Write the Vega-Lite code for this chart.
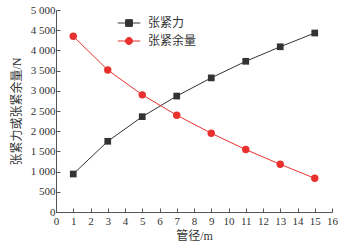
{
  "$schema": "https://vega.github.io/schema/vega-lite/v6.json",
  "autosize": {"type": "none"},
  "width": 276,
  "height": 202,
  "padding": {"left": 56, "top": 10, "right": 13, "bottom": 36},
  "background": "white",
  "config": {
    "view": {"stroke": null},
    "font": "Liberation Serif",
    "axis": {
      "labelFont": "Liberation Serif",
      "titleFont": "Liberation Serif, Noto Sans CJK SC",
      "labelFontSize": 11,
      "titleFontSize": 12,
      "labelColor": "#333333",
      "titleColor": "#333333",
      "titleFontWeight": "normal",
      "domainColor": "#555555",
      "tickColor": "#555555",
      "grid": false
    }
  },
  "data": {
    "values": [
      {"d": 1, "v": 940, "s": "张紧力"},
      {"d": 3, "v": 1750, "s": "张紧力"},
      {"d": 5, "v": 2360, "s": "张紧力"},
      {"d": 7, "v": 2870, "s": "张紧力"},
      {"d": 9, "v": 3320, "s": "张紧力"},
      {"d": 11, "v": 3730, "s": "张紧力"},
      {"d": 13, "v": 4090, "s": "张紧力"},
      {"d": 15, "v": 4430, "s": "张紧力"},
      {"d": 1, "v": 4350, "s": "张紧余量"},
      {"d": 3, "v": 3515, "s": "张紧余量"},
      {"d": 5, "v": 2900, "s": "张紧余量"},
      {"d": 7, "v": 2395, "s": "张紧余量"},
      {"d": 9, "v": 1950, "s": "张紧余量"},
      {"d": 11, "v": 1545, "s": "张紧余量"},
      {"d": 13, "v": 1180, "s": "张紧余量"},
      {"d": 15, "v": 835, "s": "张紧余量"}
    ]
  },
  "encoding": {
    "x": {
      "field": "d", "type": "quantitative",
      "scale": {"domain": [0, 16], "nice": false, "zero": false},
      "axis": {"title": "管径/m", "values": [0,1,2,3,4,5,6,7,8,9,10,11,12,13,14,15,16], "tickSize": -4, "labelPadding": 7, "titlePadding": 4, "labelFlush": false}
    },
    "y": {
      "field": "v", "type": "quantitative",
      "scale": {"domain": [0, 5000], "nice": false},
      "axis": {"title": "张紧力或张紧余量/N", "values": [0,500,1000,1500,2000,2500,3000,3500,4000,4500,5000], "tickSize": -4, "labelPadding": 5, "titlePadding": 7, "labelExpr": "replace(format(datum.value, ','), ',', ' ')"}
    },
    "color": {
      "field": "s", "type": "nominal",
      "scale": {"domain": ["张紧力", "张紧余量"], "range": ["#333333", "#e8312f"]},
      "legend": {
        "title": null,
        "orient": "none",
        "legendX": 65,
        "legendY": 5,
        "padding": 0,
        "symbolSize": 225,
        "labelOffset": 11,
        "rowPadding": 4,
        "labelFont": "Liberation Serif, Noto Sans CJK SC",
        "labelFontSize": 12,
        "labelColor": "#333333",
        "symbolOpacity": 1,
        "encode": {
          "symbols": {
            "update": {
              "shape": {"signal": "datum.value === '张紧力' ? 'M-1.5,0L1.5,0M-0.45,-0.45L0.45,-0.45L0.45,0.45L-0.45,0.45Z' : 'M-1.5,0L1.5,0M0.47,0A0.47,0.47 0 1 1 -0.47,0A0.47,0.47 0 1 1 0.47,0Z'"},
              "fill": {"signal": "datum.value === '张紧力' ? '#333333' : '#e8312f'"},
              "stroke": {"signal": "datum.value === '张紧力' ? '#333333' : '#e8312f'"},
              "strokeWidth": {"value": 1},
              "opacity": {"value": 1}
            }
          }
        }
      }
    }
  },
  "layer": [
    {"mark": {"type": "line", "strokeWidth": 1}},
    {
      "transform": [{"filter": "datum.s === '张紧力'"}],
      "mark": {"type": "point", "shape": "square", "filled": true, "opacity": 1, "size": 45}
    },
    {
      "transform": [{"filter": "datum.s === '张紧余量'"}],
      "mark": {"type": "point", "shape": "circle", "filled": true, "opacity": 1, "size": 55}
    }
  ]
}
